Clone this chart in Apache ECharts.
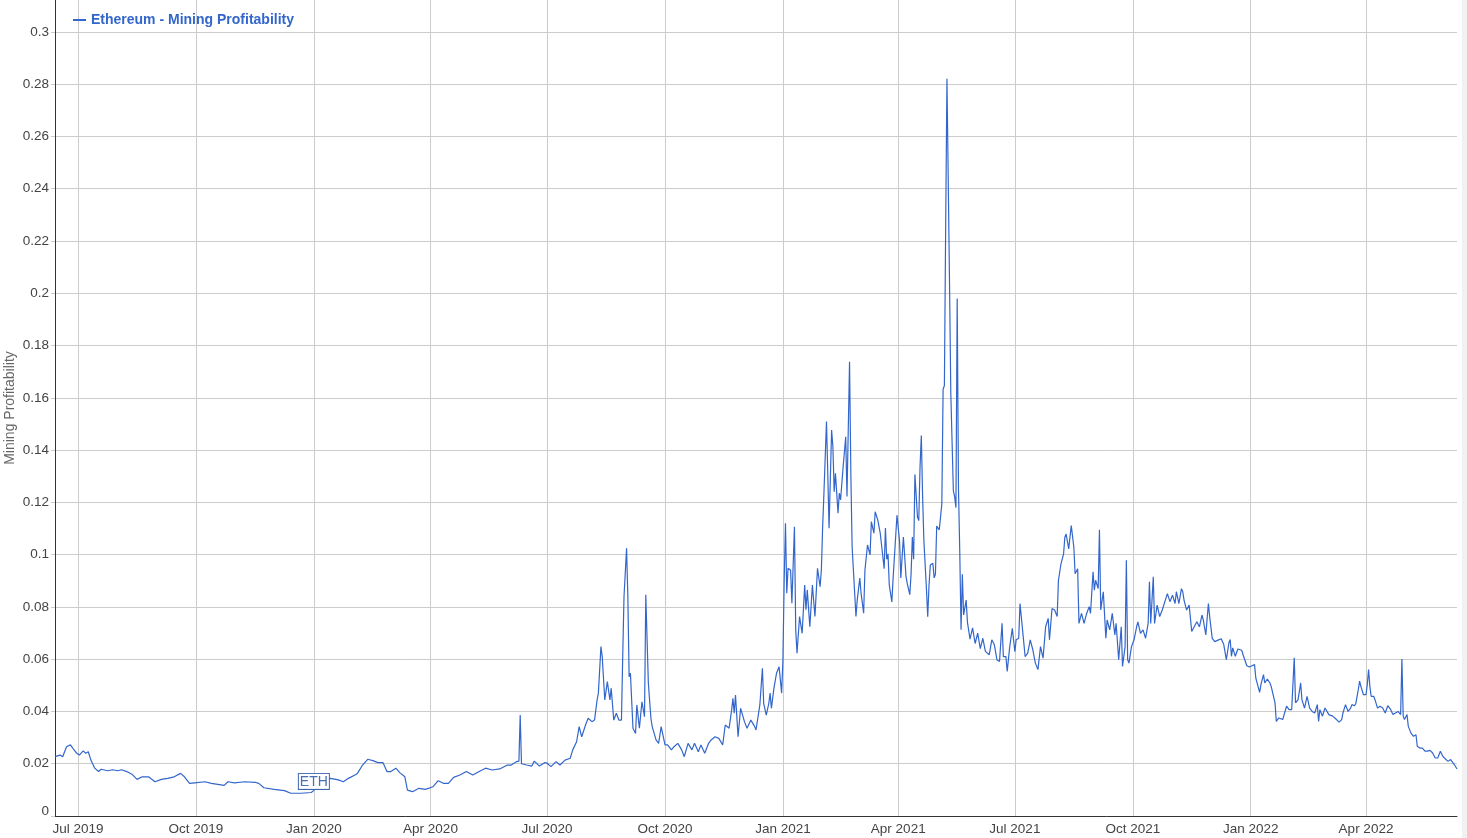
<!DOCTYPE html>
<html>
<head>
<meta charset="utf-8">
<script src="https://cdn.jsdelivr.net/npm/echarts@6/dist/echarts.min.js"></script>
<style>
html,body{margin:0;padding:0;background:#fff;}
#chart{width:1467px;height:838px;}
</style>
</head>
<body>
<div id="chart"></div>
<script>
const seriesName = 'Ethereum - Mining Profitability';
const yAxisName = 'Mining Profitability';
const annotationText = 'ETH';
const annotationDate = '2020-01-01';
const annotationValue = 0.0098;
const monthNames = ['Jan','Feb','Mar','Apr','May','Jun','Jul','Aug','Sep','Oct','Nov','Dec'];

const dates = [
'2019-06-13','2019-06-17','2019-06-19','2019-06-22','2019-06-25','2019-06-27','2019-06-30','2019-07-02','2019-07-05','2019-07-07',
'2019-07-09','2019-07-11','2019-07-14','2019-07-17','2019-07-19','2019-07-24','2019-07-28','2019-08-01','2019-08-04','2019-08-08',
'2019-08-12','2019-08-16','2019-08-20','2019-08-25','2019-08-30','2019-09-04','2019-09-09','2019-09-14','2019-09-19','2019-09-22',
'2019-09-26','2019-09-30','2019-10-08','2019-10-13','2019-10-18','2019-10-23','2019-10-26','2019-10-31','2019-11-08','2019-11-16',
'2019-11-19','2019-11-23','2019-12-01','2019-12-09','2019-12-14','2019-12-22','2019-12-30',
'2020-01-01','2020-01-05','2020-01-09','2020-01-14','2020-01-20','2020-01-24','2020-01-28','2020-02-02','2020-02-04','2020-02-08',
'2020-02-12','2020-02-16','2020-02-20','2020-02-24','2020-02-27','2020-03-01','2020-03-05','2020-03-08','2020-03-12','2020-03-14',
'2020-03-18','2020-03-23','2020-03-28','2020-04-03','2020-04-07','2020-04-11','2020-04-15','2020-04-19','2020-04-24','2020-04-29',
'2020-05-04','2020-05-09','2020-05-14','2020-05-19','2020-05-25','2020-05-31','2020-06-03','2020-06-07','2020-06-09','2020-06-10',
'2020-06-11','2020-06-15','2020-06-19','2020-06-21','2020-06-25','2020-06-29','2020-07-01','2020-07-04','2020-07-08','2020-07-11',
'2020-07-15','2020-07-19','2020-07-21','2020-07-24','2020-07-26','2020-07-28','2020-07-31','2020-08-02','2020-08-05','2020-08-07',
'2020-08-09','2020-08-10','2020-08-12','2020-08-13','2020-08-15','2020-08-17','2020-08-19','2020-08-20','2020-08-22','2020-08-24',
'2020-08-26','2020-08-28','2020-08-29','2020-08-30','2020-09-01','2020-09-02','2020-09-03','2020-09-04','2020-09-06','2020-09-08',
'2020-09-09','2020-09-11','2020-09-13','2020-09-15','2020-09-16','2020-09-18','2020-09-20','2020-09-21','2020-09-24','2020-09-26',
'2020-09-28','2020-10-01','2020-10-03','2020-10-06','2020-10-08','2020-10-11','2020-10-14','2020-10-16','2020-10-19','2020-10-22',
'2020-10-24','2020-10-27','2020-10-29','2020-11-01','2020-11-04','2020-11-06','2020-11-09','2020-11-12','2020-11-15','2020-11-17',
'2020-11-20','2020-11-22','2020-11-23','2020-11-24','2020-11-25','2020-11-27','2020-11-28','2020-11-29','2020-12-02','2020-12-04',
'2020-12-07','2020-12-10','2020-12-11','2020-12-14','2020-12-16','2020-12-17','2020-12-19','2020-12-21','2020-12-22','2020-12-23',
'2020-12-25','2020-12-27','2020-12-29','2020-12-31',
'2021-01-01','2021-01-02','2021-01-03','2021-01-04','2021-01-05','2021-01-07','2021-01-08','2021-01-10','2021-01-11','2021-01-12',
'2021-01-14','2021-01-16','2021-01-18','2021-01-19','2021-01-20','2021-01-22','2021-01-24','2021-01-26','2021-01-27','2021-01-28',
'2021-01-30','2021-01-31','2021-02-01','2021-02-02','2021-02-04','2021-02-05','2021-02-06','2021-02-08','2021-02-09','2021-02-10',
'2021-02-11','2021-02-13','2021-02-14','2021-02-15','2021-02-17','2021-02-19','2021-02-20','2021-02-22','2021-02-23','2021-02-24',
'2021-02-27','2021-02-28','2021-03-02','2021-03-03','2021-03-05','2021-03-06','2021-03-08','2021-03-10','2021-03-11','2021-03-13',
'2021-03-14','2021-03-16','2021-03-18','2021-03-21','2021-03-22','2021-03-23','2021-03-24','2021-03-25','2021-03-27','2021-03-28',
'2021-03-31','2021-04-01','2021-04-02','2021-04-03','2021-04-05','2021-04-06','2021-04-07','2021-04-08','2021-04-10','2021-04-11',
'2021-04-12','2021-04-13','2021-04-14','2021-04-16','2021-04-17','2021-04-18','2021-04-19','2021-04-20','2021-04-21','2021-04-23',
'2021-04-24','2021-04-25','2021-04-26','2021-04-28','2021-04-29','2021-04-30','2021-05-01','2021-05-03','2021-05-05','2021-05-06',
'2021-05-07','2021-05-08','2021-05-09','2021-05-10','2021-05-11','2021-05-12','2021-05-14','2021-05-15','2021-05-16','2021-05-17',
'2021-05-18','2021-05-19','2021-05-20','2021-05-21','2021-05-22','2021-05-24','2021-05-25','2021-05-27','2021-05-29','2021-05-31',
'2021-06-02','2021-06-04','2021-06-06','2021-06-08','2021-06-11','2021-06-13','2021-06-15','2021-06-17','2021-06-19','2021-06-21',
'2021-06-22','2021-06-24','2021-06-25','2021-06-27','2021-06-29','2021-07-01','2021-07-02','2021-07-04','2021-07-05','2021-07-07',
'2021-07-09','2021-07-11','2021-07-13','2021-07-15','2021-07-17','2021-07-19','2021-07-21','2021-07-23','2021-07-25','2021-07-27',
'2021-07-28','2021-07-30','2021-08-01','2021-08-03','2021-08-04','2021-08-06','2021-08-08','2021-08-09','2021-08-10','2021-08-12',
'2021-08-13','2021-08-14','2021-08-16','2021-08-17','2021-08-19','2021-08-20','2021-08-22','2021-08-24','2021-08-26','2021-08-28',
'2021-08-29','2021-08-31','2021-09-01','2021-09-02','2021-09-04','2021-09-05','2021-09-06','2021-09-08','2021-09-10','2021-09-11',
'2021-09-13','2021-09-15','2021-09-17','2021-09-18','2021-09-20','2021-09-22','2021-09-23','2021-09-25','2021-09-26','2021-09-27',
'2021-09-28','2021-09-30','2021-10-02','2021-10-04','2021-10-05','2021-10-07','2021-10-09','2021-10-11','2021-10-13','2021-10-14',
'2021-10-15','2021-10-17','2021-10-18','2021-10-20','2021-10-22','2021-10-24','2021-10-28','2021-10-30','2021-11-01','2021-11-03',
'2021-11-04','2021-11-06','2021-11-08','2021-11-09','2021-11-10','2021-11-12','2021-11-14','2021-11-16','2021-11-17','2021-11-20',
'2021-11-22','2021-11-24','2021-11-25','2021-11-27','2021-11-29','2021-11-30','2021-12-02','2021-12-04','2021-12-07','2021-12-09',
'2021-12-11','2021-12-13','2021-12-15','2021-12-16','2021-12-17','2021-12-18','2021-12-20','2021-12-22','2021-12-25','2021-12-26',
'2021-12-29','2021-12-31',
'2022-01-02','2022-01-04','2022-01-05','2022-01-06','2022-01-08','2022-01-09','2022-01-11','2022-01-12','2022-01-14','2022-01-16',
'2022-01-17','2022-01-18','2022-01-20','2022-01-21','2022-01-23','2022-01-26','2022-01-27','2022-01-29','2022-01-31','2022-02-02',
'2022-02-03','2022-02-04','2022-02-05','2022-02-07','2022-02-09','2022-02-10','2022-02-12','2022-02-14','2022-02-16','2022-02-18',
'2022-02-20','2022-02-22','2022-02-23','2022-02-24','2022-02-26','2022-02-28','2022-03-01','2022-03-03','2022-03-06','2022-03-07',
'2022-03-09','2022-03-11','2022-03-13','2022-03-14','2022-03-16','2022-03-18','2022-03-20','2022-03-21','2022-03-23','2022-03-24',
'2022-03-26','2022-03-27','2022-03-28','2022-03-30','2022-04-01','2022-04-02','2022-04-03','2022-04-04','2022-04-05','2022-04-07',
'2022-04-08','2022-04-10','2022-04-12','2022-04-14','2022-04-16','2022-04-18','2022-04-20','2022-04-22','2022-04-24','2022-04-26',
'2022-04-28','2022-04-29','2022-04-30','2022-05-01','2022-05-03','2022-05-04','2022-05-06','2022-05-08','2022-05-10','2022-05-11',
'2022-05-13','2022-05-15','2022-05-17','2022-05-19','2022-05-21','2022-05-23','2022-05-25','2022-05-27','2022-05-29','2022-05-31',
'2022-06-02','2022-06-04','2022-06-06','2022-06-07','2022-06-09','2022-06-11'
];

const values = [
0.0227,0.0233,0.0227,0.0265,0.0272,0.0259,0.0240,0.0233,0.0249,0.0240,
0.0246,0.0214,0.0183,0.0170,0.0179,0.0173,0.0177,0.0173,0.0177,0.0170,
0.0160,0.0140,0.0150,0.0150,0.0131,0.0140,0.0144,0.0150,0.0163,0.0150,
0.0125,0.0127,0.0131,0.0125,0.0121,0.0117,0.0131,0.0127,0.0131,0.0129,
0.0125,0.0108,0.0102,0.0097,0.0087,0.0087,0.0090,
0.0098,0.0115,0.0130,0.0144,0.0138,0.0131,0.0144,0.0157,0.0163,0.0195,
0.0217,0.0212,0.0204,0.0204,0.0170,0.0170,0.0183,0.0166,0.0150,0.0099,
0.0093,0.0106,0.0102,0.0112,0.0135,0.0125,0.0125,0.0148,0.0157,0.0170,
0.0157,0.0170,0.0183,0.0176,0.0180,0.0195,0.0195,0.0208,0.0210,0.0386,
0.0200,0.0195,0.0191,0.0210,0.0191,0.0204,0.0202,0.0189,0.0208,0.0195,
0.0214,0.0221,0.0253,0.0284,0.0342,0.0303,0.0348,0.0374,0.0361,0.0367,
0.0444,0.0470,0.0648,0.0610,0.0444,0.0514,0.0444,0.0489,0.0367,0.0393,
0.0367,0.0367,0.0610,0.0839,0.1024,0.0839,0.0533,0.0546,0.0336,0.0316,
0.0425,0.0336,0.0437,0.0380,0.0846,0.0508,0.0374,0.0342,0.0291,0.0278,
0.0342,0.0272,0.0272,0.0253,0.0265,0.0278,0.0253,0.0227,0.0278,0.0253,
0.0278,0.0246,0.0272,0.0240,0.0278,0.0291,0.0303,0.0297,0.0272,0.0348,
0.0336,0.0406,0.0450,0.0393,0.0463,0.0303,0.0297,0.0412,0.0361,0.0336,
0.0367,0.0342,0.0329,0.0425,0.0565,0.0431,0.0386,0.0431,0.0470,0.0412,
0.0489,0.0546,0.0571,0.0470,
0.0597,0.0903,0.1120,0.0852,0.0948,0.0940,0.0814,0.1107,0.0712,0.0623,
0.0763,0.0699,0.0884,0.0789,0.0865,0.0724,0.0884,0.0763,0.0763,0.0948,
0.0877,0.0940,0.1107,0.1235,0.1509,0.1311,0.1101,0.1477,0.1413,0.1241,
0.1311,0.1158,0.1235,0.1209,0.1337,0.1451,0.1222,0.1738,0.1311,0.1030,
0.0763,0.0827,0.0910,0.0852,0.0776,0.0940,0.1037,0.0999,0.1126,0.1082,
0.1164,0.1133,0.1080,0.0946,0.1102,0.0982,0.1003,0.0883,0.0819,0.0911,
0.1151,0.1158,0.1053,0.0911,0.1067,0.0996,0.0918,0.0890,0.0847,0.0925,
0.1067,0.0982,0.1307,0.1144,0.1130,0.1336,0.1456,0.1222,0.1053,0.0869,
0.0762,0.0883,0.0960,0.0967,0.0911,0.0925,0.1109,0.1095,0.1194,0.1633,
0.1647,0.2255,0.2821,0.2814,0.2043,0.1619,0.1244,0.1222,0.1180,0.1980,
0.1250,0.1011,0.0713,0.0925,0.0769,0.0826,0.0741,0.0677,0.0720,0.0660,
0.0700,0.0640,0.0680,0.0630,0.0617,0.0674,0.0655,0.0598,0.0591,0.0737,
0.0610,0.0610,0.0553,0.0648,0.0718,0.0629,0.0674,0.0680,0.0813,0.0712,
0.0610,0.0623,0.0674,0.0636,0.0585,0.0560,0.0648,0.0604,0.0724,0.0756,
0.0674,0.0794,0.0788,0.0763,0.0902,0.0965,0.1003,0.1067,0.1079,0.1022,
0.1067,0.1111,0.1029,0.0927,0.0946,0.0737,0.0775,0.0737,0.0775,0.0801,
0.0775,0.0934,0.0864,0.0902,0.0870,0.1095,0.0788,0.0858,0.0680,0.0750,
0.0712,0.0775,0.0693,0.0737,0.0598,0.0724,0.0572,0.0648,0.0978,0.0598,
0.0585,0.0648,0.0674,0.0724,0.0743,0.0699,0.0712,0.0680,0.0737,0.0896,
0.0737,0.0915,0.0737,0.0807,0.0763,0.0788,0.0851,0.0820,0.0845,0.0813,
0.0858,0.0813,0.0870,0.0858,0.0826,0.0788,0.0807,0.0706,0.0699,0.0743,
0.0724,0.0769,0.0750,0.0693,0.0813,0.0763,0.0680,0.0667,0.0674,0.0678,
0.0656,0.0598,0.0662,0.0675,0.0611,0.0643,0.0611,0.0639,0.0634,0.0618,
0.0575,0.0570,
0.0575,0.0579,0.0528,0.0509,0.0473,0.0503,0.0541,0.0509,0.0524,0.0509,
0.0496,0.0499,0.0433,0.0362,0.0375,0.0369,0.0362,0.0420,0.0407,0.0407,
0.0413,0.0605,0.0433,0.0445,0.0509,0.0445,0.0413,0.0458,0.0413,0.0400,
0.0394,0.0426,0.0362,0.0407,0.0382,0.0413,0.0413,0.0388,0.0382,0.0388,
0.0369,0.0359,0.0369,0.0394,0.0426,0.0400,0.0413,0.0426,0.0422,0.0430,
0.0484,0.0516,0.0496,0.0464,0.0464,0.0503,0.0560,0.0496,0.0458,0.0458,
0.0445,0.0413,0.0420,0.0413,0.0394,0.0422,0.0409,0.0388,0.0394,0.0400,
0.0388,0.0601,0.0382,0.0369,0.0388,0.0343,0.0318,0.0305,0.0311,0.0267,
0.0260,0.0260,0.0248,0.0248,0.0251,0.0241,0.0222,0.0222,0.0248,0.0228,
0.0218,0.0209,0.0216,0.0216,0.0196,0.0180
];

const xMin = '2019-06-13';
const xMax = '2022-06-11';
const yMin = 0, yTop = 0.3122, yStep = 0.02;

const lineColor = '#3366cc';
const fontFam = 'Arial, "Liberation Sans", sans-serif';

const chart = echarts.init(document.getElementById('chart'), null, {renderer: 'canvas'});
const option = {
  animation: false,
  backgroundColor: '#ffffff',
  textStyle: {fontFamily: fontFam},
  grid: {left: 55, right: 10, top: 0, bottom: 22, containLabel: false, outerBoundsMode: 'none'},
  legend: {
    show: true,
    left: 73, top: 13,
    padding: 0,
    data: [seriesName],
    icon: 'rect',
    itemWidth: 13, itemHeight: 2,
    textStyle: {color: lineColor, fontWeight: 'bold', fontSize: 14, fontFamily: fontFam}
  },
  xAxis: {
    type: 'time',
    min: xMin, max: xMax,
    splitNumber: 12,
    minInterval: 91 * 86400000,
    maxInterval: 100 * 86400000,
    axisLine: {show: true, lineStyle: {color: '#333', width: 1}},
    axisTick: {show: false},
    splitLine: {show: true, showMinLine: false, showMaxLine: false, lineStyle: {color: '#cccccc', width: 1}},
    axisLabel: {
      color: '#444', fontSize: 13.5, margin: 6, fontFamily: fontFam,
      showMinLabel: false, showMaxLabel: false,
      formatter: function (v) { const d = new Date(v); return monthNames[d.getMonth()] + ' ' + d.getFullYear(); }
    }
  },
  yAxis: {
    type: 'value',
    min: yMin, max: yTop, interval: yStep,
    name: yAxisName,
    nameLocation: 'middle',
    nameGap: 38,
    nameMoveOverlap: false,
    nameTextStyle: {color: '#666', fontSize: 14, fontFamily: fontFam},
    axisLine: {show: true, lineStyle: {color: '#333', width: 1}},
    axisTick: {show: true, length: 4, lineStyle: {color: '#cccccc'}},
    splitLine: {show: true, showMaxLine: false, lineStyle: {color: '#cccccc', width: 1}},
    axisLabel: {
      color: '#444', fontSize: 13.5, margin: 6, fontFamily: fontFam,
      showMaxLabel: false,
      formatter: function (v) {
        const s = String(+v.toFixed(2));
        return v === 0 ? '{z|' + s + '}' : s;
      },
      rich: {z: {padding: [0, 0, 10, 0], color: '#444', fontSize: 13.5, fontFamily: fontFam}}
    }
  },
  series: [{
    name: seriesName,
    type: 'line',
    data: dates.map((d, i) => [d, values[i]]),
    showSymbol: false,
    symbol: 'none',
    lineStyle: {color: lineColor, width: 1.2},
    itemStyle: {color: lineColor},
    markPoint: {
      symbol: 'rect',
      symbolSize: 1,
      itemStyle: {color: 'rgba(0,0,0,0)'},
      data: [{coord: [annotationDate, annotationValue], value: annotationText}],
      label: {
        show: true,
        position: 'top',
        distance: 1,
        formatter: annotationText,
        color: '#4a6fb5',
        fontSize: 14,
        fontFamily: fontFam,
        backgroundColor: '#ffffff',
        borderColor: '#3f64b0',
        borderWidth: 1,
        padding: [1, 1, 0, 1]
      }
    }
  }],
  graphic: [{
    type: 'rect', left: 1462, top: 0,
    shape: {width: 5, height: 838},
    style: {fill: '#f1f1f1'},
    silent: true
  }]
};
chart.setOption(option);
</script>
</body>
</html>
